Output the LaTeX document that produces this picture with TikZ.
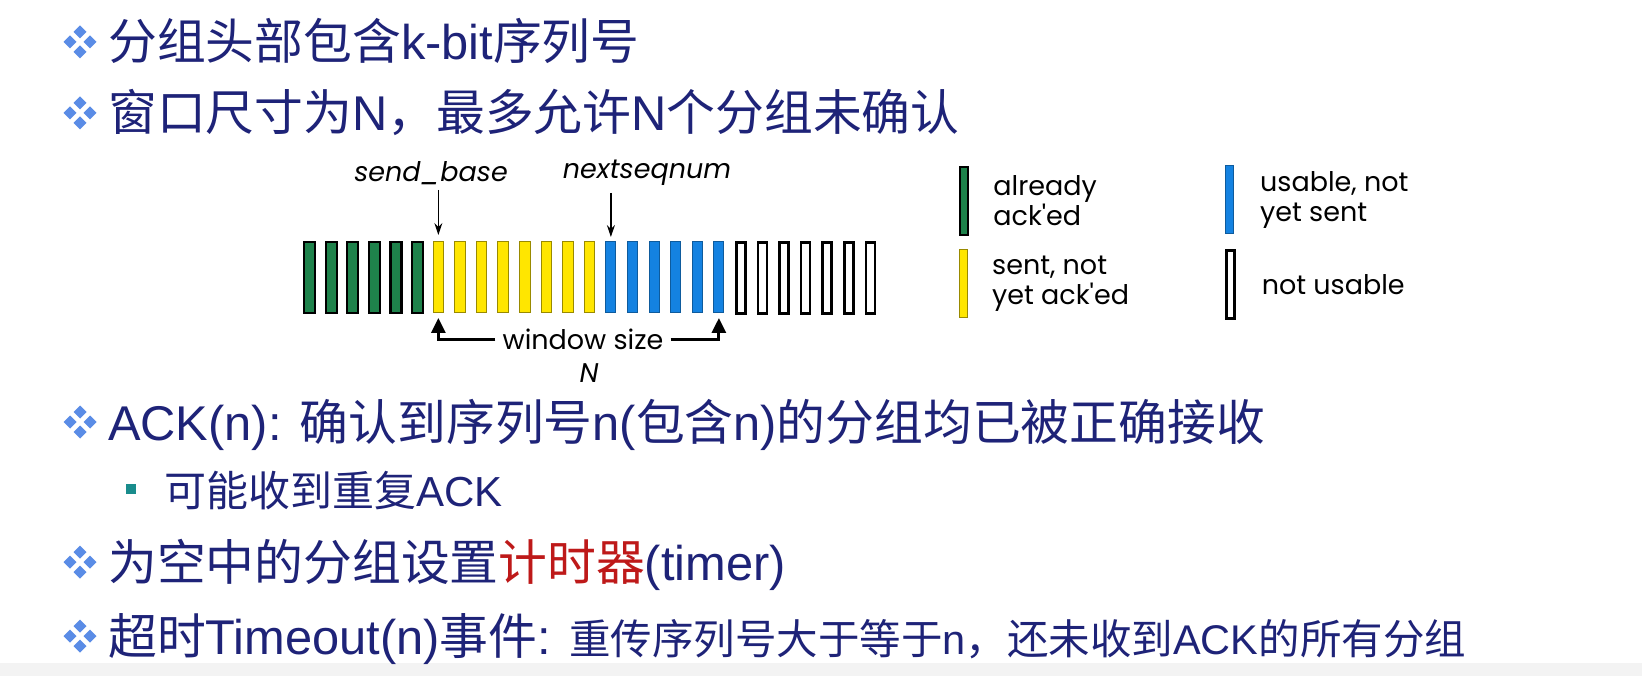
\documentclass[tikz,border=0pt]{standalone}
\usepackage{fontspec}
\setmainfont{Liberation Sans}
\newfontfamily\cjk{Noto Sans CJK SC}
\newfontfamily\geo{Poppins}
\usetikzlibrary{arrows.meta,positioning}
\definecolor{navy}{RGB}{30,35,120}
\definecolor{bulletblue}{RGB}{90,140,230}
\definecolor{ackgreen}{RGB}{30,130,75}
\definecolor{sentyellow}{RGB}{255,230,0}
\definecolor{usableblue}{RGB}{20,130,225}
\definecolor{timerred}{RGB}{190,25,25}
\definecolor{subteal}{RGB}{25,140,140}
\definecolor{footgrey}{RGB}{243,243,243}
\newcommand{\zh}[1]{{\cjk #1}}
\tikzset{
    >=Stealth,
    line/.style={anchor=base west,inner sep=0pt,text=navy,font=\fontsize{48.8}{58}\selectfont},
    subline/.style={line,font=\fontsize{42}{50}\selectfont},
    pkt/.style={draw,anchor=north west,inner sep=0pt,minimum height=71pt},
    acked/.style={pkt,fill=ackgreen,draw=black,line width=2.2pt,minimum width=11pt},
    sent/.style={pkt,fill=sentyellow,draw=sentyellow!60!black,line width=1pt,minimum width=10.5pt},
    usable/.style={pkt,fill=usableblue,draw=usableblue!70!black,line width=1pt,minimum width=10pt},
    unusable/.style={pkt,fill=white,draw=black,line width=2.6pt,minimum width=9pt},
    legendbar/.style={minimum width=8pt,minimum height=68pt},
    lbl/.style={inner sep=2pt,font=\geo\fontsize{27}{30}\selectfont},
    ilbl/.style={lbl,font=\geo\itshape\fontsize{27}{30}\selectfont},
    key/.style={lbl,align=left,anchor=west},
    ptr/.style={line width=1.2pt,-{Stealth[length=12pt,width=8pt]}},
    winarr/.style={line width=3pt,-{Triangle[length=15pt,width=14pt]}},
    fourdia/.pic={
        \foreach \dx/\dy in {0/-10,10/0,0/10,-10/0}
            \fill[bulletblue] (\dx,\dy) +(0,-6.5) -- +(6.5,0) -- +(0,6.5) -- +(-6.5,0) -- cycle;
    }
}

\begin{document}
\begin{tikzpicture}[x=1pt,y=-1pt]
    \fill[white] (0,0) rectangle (1642,676);
    \fill[footgrey] (0,663) rectangle (1642,676);
    \useasboundingbox (0,0) rectangle (1642,676);

    % bullet points
    \foreach \y in {42,113,422,562,636}
        \pic at (80,\y) {fourdia};
    \fill[subteal] (126,484) rectangle (136,494);

    \node[line] (l1) at (108,60) {\zh{分组头部包含}k-bit\zh{序列号}};
    \node[line] (l2) at (108,131) {\zh{窗口尺寸为}N\zh{，最多允许}N\zh{个分组未确认}};
    \node[line] (l3) at (108,440) {ACK(n): \zh{确认到序列号}n(\zh{包含}n)\zh{的分组均已被正确接收}};
    \node[subline] (l4) at (164,506) {\zh{可能收到重复}ACK};
    \node[line] (l5) at (108,580) {\zh{为空中的分组设置}\textcolor{timerred}{\zh{计时器}}(timer)};
    \node[line] (l6) at (108,654) {\zh{超时}Timeout(n)\zh{事件}: {\fontsize{41.5}{50}\selectfont\zh{重传序列号大于等于}n\zh{，还未收到}ACK\zh{的所有分组}}};

    % sequence number space
    \foreach \i in {0,...,5}
        \node[acked] (b\i) at ({303+21.6*\i},241) {};
    \foreach \i in {6,...,13}
        \node[sent] (b\i) at ({303+21.6*\i},241) {};
    \foreach \i in {14,...,19}
        \node[usable] (b\i) at ({303+21.6*\i},241) {};
    \foreach \i in {20,...,26}
        \node[unusable] (b\i) at ({303+21.6*\i},241) {};

    \node[ilbl] (sb) at (431,173) {send\_base};
    \node[ilbl] (ns) at (647,173) {nextseqnum};
    \draw[ptr] ([yshift=-3pt]b6.north |- sb.south) -- ([yshift=6pt]b6.north);
    \draw[ptr] ([yshift=-5pt]b14.north |- ns.south) -- ([yshift=4pt]b14.north);

    \node[lbl,anchor=base,inner xsep=7pt] (ws) at (583,350) {window size};
    \node[ilbl] (wn) at (589,373) {N};
    \draw[winarr] (ws.west) -| ([yshift=-5pt]b6.south);
    \draw[winarr] (ws.east) -| ([yshift=-5pt]b19.south);

    % legend
    \node[acked,legendbar] (kA) at (959,166) {};
    \node[sent,legendbar] (kS) at (959,249) {};
    \node[usable,legendbar] (kU) at (1225,165) {};
    \node[unusable,legendbar] (kN) at (1225,249) {};
    \node[key,right=22pt of kA] (tA) {already\\ack'ed};
    \node[key,right=22pt of kS] (tS) {sent, not\\yet ack'ed};
    \node[key,right=24pt of kU] (tU) {usable, not\\yet sent};
    \node[key,right=24pt of kN] (tN) {not usable};
\end{tikzpicture}
\end{document}
